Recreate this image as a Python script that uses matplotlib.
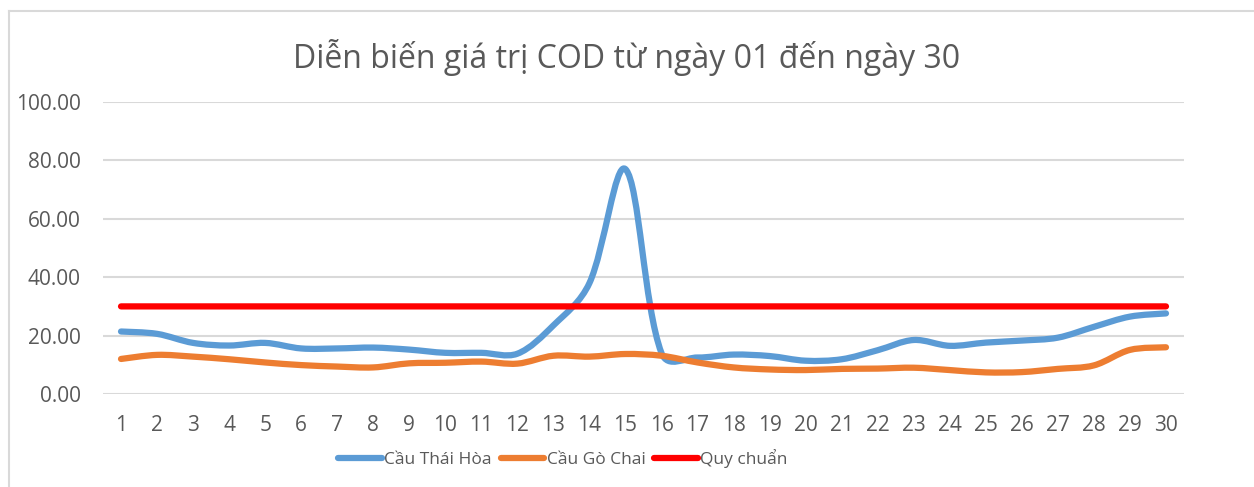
"""Diễn biến giá trị COD từ ngày 01 đến ngày 30 (Excel-style smoothed lines)."""
import numpy as np
import matplotlib
matplotlib.use("Agg")
import matplotlib.pyplot as plt
from matplotlib.path import Path
from matplotlib.patches import PathPatch
from matplotlib.lines import Line2D

days = list(range(1, 31))
cau_thai_hoa = [21.4, 20.6, 17.5, 16.6, 17.5, 15.6, 15.6, 15.9, 15.2, 14.1,
                14.1, 13.8, 23.5, 38.0, 77.0, 14.0, 12.5, 13.5, 13.0, 11.4,
                11.9, 15.0, 18.5, 16.5, 17.6, 18.3, 19.3, 23.0, 26.5, 27.6]
cau_go_chai = [12.0, 13.4, 12.8, 11.9, 10.8, 9.9, 9.4, 9.1, 10.5, 10.7,
               11.1, 10.4, 13.1, 12.8, 13.7, 13.1, 10.8, 9.1, 8.4, 8.2,
               8.6, 8.7, 9.0, 8.2, 7.4, 7.5, 8.6, 9.8, 15.1, 16.0]
quy_chuan = [30.0] * 30
yticks = [0, 20, 40, 60, 80, 100]

text_color = "#595959"
plt.rcParams['font.family'] = ['Open Sans', 'DejaVu Sans']

W, H = 1254, 487
ax_rect = [103 / W, 1 - 394 / H, (1184 - 103) / W, (394 - 102) / H]
xlim = (0.5, 30.5)
ylim = (0, 100)


def smooth_path(x, y):
    # Bezier smoothing like Excel: tangents partly weighted by on-screen segment lengths
    x = np.asarray(x, float)
    y = np.asarray(y, float)
    sx = ax_rect[2] * W / (xlim[1] - xlim[0])
    sy = ax_rect[3] * H / (ylim[1] - ylim[0])
    n = len(x)
    d = np.hypot(np.diff(x) * sx, np.diff(y) * sy)
    verts = [(x[0], y[0])]
    codes = [Path.MOVETO]
    for i in range(n - 1):
        i0 = max(i - 1, 0)
        i3 = min(i + 2, n - 1)
        f1, f2 = 1 / 6, 1 / 6
        if i > 0:
            f1 = 0.7 * d[i] / (d[i - 1] + d[i]) / 3 + 0.3 / 6
        if i + 1 < n - 1:
            f2 = 0.7 * d[i] / (d[i] + d[i + 1]) / 3 + 0.3 / 6
        c1 = (x[i] + (x[i + 1] - x[i0]) * f1, y[i] + (y[i + 1] - y[i0]) * f1)
        c2 = (x[i + 1] - (x[i3] - x[i]) * f2, y[i + 1] - (y[i3] - y[i]) * f2)
        verts += [c1, c2, (x[i + 1], y[i + 1])]
        codes += [Path.CURVE4] * 3
    return Path(verts, codes)


fig = plt.figure(figsize=(W / 100, H / 100), dpi=100)
ax = fig.add_axes(ax_rect)

series = [("Cầu Thái Hòa", cau_thai_hoa, "#5B9BD5"),
          ("Cầu Gò Chai", cau_go_chai, "#ED7D31"),
          ("Quy chuẩn", quy_chuan, "#FF0000")]
for label, vals, color in series:
    patch = PathPatch(smooth_path(days, vals), facecolor="none", edgecolor=color,
                      lw=4.5, capstyle="round", joinstyle="round", zorder=3)
    ax.add_patch(patch)
    ax.plot([], [], color=color, lw=4.5, solid_capstyle="round", label=label)

ax.set_xlim(*xlim)
ax.set_ylim(*ylim)
ax.set_xticks(days)
ax.set_xticklabels([str(d) for d in days])
ax.set_yticks(yticks)
ax.set_yticklabels([f"{v:.2f}" for v in yticks])
ax.tick_params(length=0, labelsize=15, colors=text_color)
ax.tick_params(axis="y", pad=16)
ax.tick_params(axis="x", pad=15)
ax.grid(axis="y", color="#D9D9D9", lw=1.5)
ax.set_axisbelow(True)
for s in ax.spines.values():
    s.set_visible(False)

fig.text(0.5, 1 - 58 / H, "Diễn biến giá trị COD từ ngày 01 đến ngày 30",
         ha="center", va="center", fontsize=23, color=text_color)

leg = fig.legend(loc="center", bbox_to_anchor=(563 / W, 1 - 459 / H), ncol=3,
                 frameon=False, fontsize=12.5, handlelength=2.5, handletextpad=0.15,
                 columnspacing=0.5, labelcolor=text_color)

# chart border (left and top edges visible)
fig.add_artist(Line2D([8.5 / W, 8.5 / W], [0, 1 - 11 / H], color="#D9D9D9", lw=1.5))
fig.add_artist(Line2D([8.5 / W, 1], [1 - 11 / H, 1 - 11 / H], color="#D9D9D9", lw=1.5))

fig.savefig("out.png", dpi=100)
